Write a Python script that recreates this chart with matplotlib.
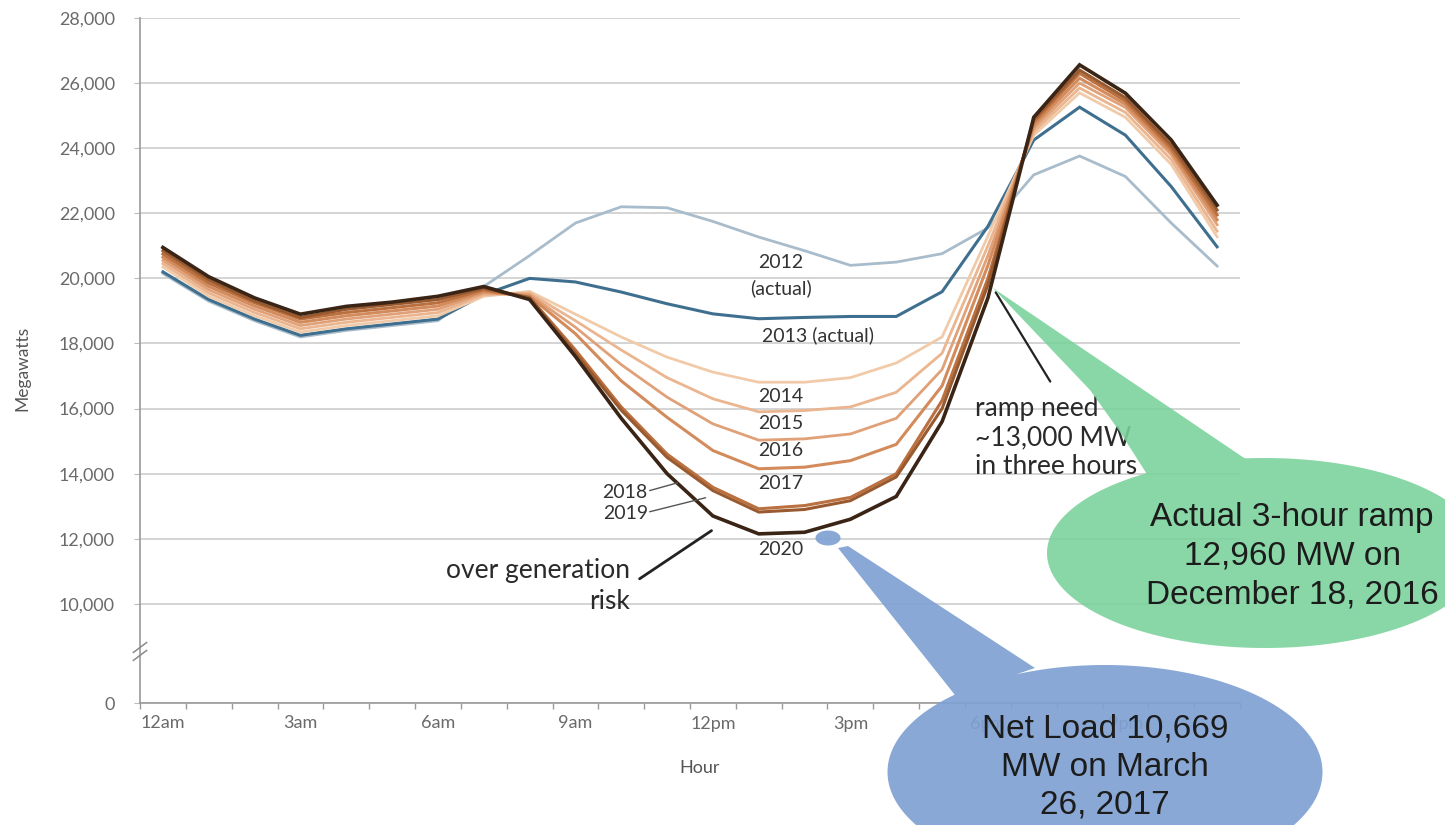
import numpy as np
import matplotlib.pyplot as plt
from matplotlib.path import Path
from matplotlib.patches import PathPatch

W, H = 1445, 825

hours = list(range(24))
tick_hours = [0, 3, 6, 9, 12, 15, 18, 21]
tick_names = ['12am', '3am', '6am', '9am', '12pm', '3pm', '6pm', '9pm']
y_ticks = [0, 10000, 12000, 14000, 16000, 18000, 20000, 22000, 24000, 26000, 28000]

# net load, MW, hour 0..23
load_2012 = [20150, 19300, 18700, 18200, 18400, 18550, 18700, 19750, 20700, 21700, 22200, 22170,
             21750, 21270, 20850, 20400, 20500, 20760, 21550, 23180, 23760, 23130, 21700, 20380]
load_2013 = [20200, 19350, 18750, 18250, 18450, 18600, 18750, 19500, 20000, 19890, 19580, 19220,
             18910, 18760, 18800, 18830, 18830, 19590, 21600, 24250, 25260, 24400, 22820, 20970]
load_2014 = [20350, 19450, 18850, 18350, 18550, 18700, 18850, 19450, 19600, 18900, 18200, 17580,
             17120, 16810, 16810, 16950, 17400, 18200, 21300, 24400, 25700, 24950, 23500, 21280]
load_2015 = [20450, 19550, 18950, 18450, 18650, 18800, 18950, 19500, 19550, 18700, 17800, 16950,
             16300, 15900, 15940, 16050, 16500, 17700, 21000, 24500, 25850, 25100, 23650, 21450]
load_2016 = [20550, 19650, 19050, 18550, 18750, 18900, 19050, 19550, 19500, 18500, 17350, 16350,
             15530, 15030, 15070, 15220, 15700, 17200, 20700, 24600, 26000, 25250, 23800, 21650]
load_2017 = [20650, 19750, 19150, 18650, 18850, 19000, 19150, 19600, 19450, 18300, 16850, 15730,
             14710, 14150, 14200, 14400, 14900, 16700, 20400, 24700, 26150, 25350, 23900, 21800]
load_2018 = [20750, 19850, 19250, 18750, 18950, 19100, 19250, 19650, 19420, 17800, 16050, 14600,
             13580, 12920, 13020, 13270, 14000, 16250, 20000, 24800, 26300, 25450, 24000, 21950]
load_2019 = [20850, 19950, 19300, 18800, 19050, 19200, 19350, 19700, 19400, 17700, 15950, 14500,
             13480, 12820, 12900, 13170, 13900, 16000, 19800, 24880, 26400, 25550, 24100, 22100]
load_2020 = [20950, 20050, 19400, 18900, 19140, 19270, 19450, 19750, 19350, 17600, 15700, 14000,
             12700, 12150, 12200, 12600, 13300, 15600, 19400, 24950, 26560, 25690, 24250, 22250]

lines = [
    (load_2012, '#a9bccb', 2.0),
    (load_2013, '#3f6f8f', 2.2),
    (load_2014, '#f1cba9', 2.0),
    (load_2015, '#eab58f', 2.0),
    (load_2016, '#e0a178', 2.0),
    (load_2017, '#d38b5c', 2.2),
    (load_2018, '#bb7040', 2.2),
    (load_2019, '#9a5a2f', 2.2),
    (load_2020, '#3a2415', 2.6),
]

# broken y axis: everything below 10,000 squashed
BREAK = 10000
SQUASH = 0.3046


def fwd(y):
    y = np.asarray(y, dtype=float)
    return np.where(y < BREAK, y * SQUASH, y - BREAK + BREAK * SQUASH)


def inv(t):
    t = np.asarray(t, dtype=float)
    return np.where(t < BREAK * SQUASH, t / SQUASH, t + BREAK - BREAK * SQUASH)


def fxy(px, py):
    return px / W, 1 - py / H


def callout(fig, cx, cy, w, h, tail, color, alpha):
    # ellipse + tail as one path so the overlap is not painted twice
    t = np.linspace(0, 2 * np.pi, 240)
    ring = np.column_stack([cx + w / 2 * np.cos(t), cy + h / 2 * np.sin(t)])
    tri = np.array(tail, dtype=float)
    a_ring = np.sum(ring[:-1, 0] * ring[1:, 1] - ring[1:, 0] * ring[:-1, 1])
    a_tri = np.sum(tri[:, 0] * np.roll(tri[:, 1], -1) - np.roll(tri[:, 0], -1) * tri[:, 1])
    if np.sign(a_ring) != np.sign(a_tri):
        tri = tri[::-1]
    verts = []
    codes = []
    for poly in (ring, tri):
        for i, (x, y) in enumerate(poly):
            verts.append(fxy(x, y))
            codes.append(Path.MOVETO if i == 0 else Path.LINETO)
        verts.append(fxy(*poly[0]))
        codes.append(Path.CLOSEPOLY)
    patch = PathPatch(Path(verts, codes), transform=fig.transFigure, facecolor=color,
                      edgecolor='none', alpha=alpha, zorder=5)
    fig.add_artist(patch)


plt.rcParams['font.family'] = ['Lato', 'DejaVu Sans']

fig = plt.figure(figsize=(W / 100, H / 100), dpi=100)
ax = fig.add_axes([140 / W, 1 - 703 / H, 1100 / W, 685 / H])
ax.set_yscale('function', functions=(fwd, inv))

for vals, col, lw in lines:
    ax.plot(hours, vals, color=col, lw=lw, solid_joinstyle='miter', zorder=3)

ax.set_xlim(-0.5, 23.5)
ax.set_ylim(0, 28000)
ax.set_yticks(y_ticks)
ax.set_yticklabels([f'{v:,}' for v in y_ticks])
ax.set_xticks(tick_hours)
ax.set_xticklabels(tick_names)
ax.set_xticks(np.arange(-0.5, 24, 1), minor=True)
ax.tick_params(axis='x', which='major', length=0, pad=9, labelsize=13, labelcolor='#6a6a6a')
ax.tick_params(axis='x', which='minor', length=4, color='#999999', width=1)
ax.tick_params(axis='y', length=4, color='#bbbbbb', pad=14, labelsize=13, labelcolor='#6a6a6a')
ax.grid(axis='y', color='#cdcdcd', lw=1.2, zorder=0)
ax.set_axisbelow(True)
for s in ('top', 'right'):
    ax.spines[s].set_visible(False)
for s in ('left', 'bottom'):
    ax.spines[s].set_color('#9a9a9a')
    ax.spines[s].set_linewidth(1.2)

# axis break marker
bt = ax.get_yaxis_transform()
ax.plot([-0.006, 0.006], [4300, 5300], transform=bt, color='#888888', lw=1.1, clip_on=False, zorder=4)
ax.plot([-0.006, 0.006], [5100, 6100], transform=bt, color='#888888', lw=1.1, clip_on=False, zorder=4)

# year labels
lab = dict(fontsize=14, color='#333333', ha='center', va='center', zorder=4)
ax.text(13.48, 20500, '2012', **lab)
ax.text(13.48, 19700, '(actual)', **lab)
ax.text(14.29, 18250, '2013 (actual)', **lab)
ax.text(13.48, 16370, '2014', **lab)
ax.text(13.48, 15530, '2015', **lab)
ax.text(13.48, 14710, '2016', **lab)
ax.text(13.48, 13700, '2017', **lab)
ax.text(13.48, 11680, '2020', **lab)
ax.text(10.58, 13420, '2018', fontsize=14, color='#333333', ha='right', va='center')
ax.text(10.58, 12770, '2019', fontsize=14, color='#333333', ha='right', va='center')
ax.annotate('', xy=(11.23, 13720), xytext=(10.62, 13480),
            arrowprops=dict(arrowstyle='-', color='#555555', lw=1, shrinkA=0, shrinkB=0))
ax.annotate('', xy=(11.84, 13260), xytext=(10.62, 12830),
            arrowprops=dict(arrowstyle='-', color='#555555', lw=1, shrinkA=0, shrinkB=0))

ax.text(10.19, 10560, 'over generation\nrisk', fontsize=19, color='#2a2a2a', ha='right',
        va='center', multialignment='right', linespacing=1.3)
ax.annotate('', xy=(11.97, 12250), xytext=(10.40, 10770),
            arrowprops=dict(arrowstyle='-', color='#222222', lw=2, shrinkA=0, shrinkB=0))

ax.text(17.72, 15100, 'ramp need\n~13,000 MW\nin three hours', fontsize=19, color='#2a2a2a',
        ha='left', va='center', linespacing=1.2)
ax.annotate('', xy=(18.17, 19570), xytext=(19.36, 16830),
            arrowprops=dict(arrowstyle='-', color='#222222', lw=1.6, shrinkA=0, shrinkB=0))

fig.text(*fxy(22, 368), 'Megawatts', rotation=90, fontsize=12.5, color='#555555', ha='center', va='center')
fig.text(*fxy(700, 768), 'Hour', fontsize=13, color='#555555', ha='center', va='center')

# callouts
callout(fig, 1265, 553, 436, 190,
        [(993, 288), (1250, 462), (1152, 482), (1120, 432), (1090, 390)], '#79d29b', 0.88)
fig.text(*fxy(1292, 556), 'Actual 3-hour ramp\n12,960 MW on\nDecember 18, 2016', fontsize=24,
         family='Liberation Sans', color='#1c1c1c', ha='center', va='center', linespacing=1.33, zorder=6)

callout(fig, 1105, 772, 435, 214, [(838, 548), (848, 546), (1035, 668), (955, 695)], '#7fa1d2', 0.92)
callout(fig, 828, 538, 25, 15, [(828, 538), (829, 539), (827, 539)], '#7fa1d2', 0.92)
fig.text(*fxy(1105, 767), 'Net Load 10,669\nMW on March\n26, 2017', fontsize=24,
         family='Liberation Sans', color='#1c1c1c', ha='center', va='center', linespacing=1.3, zorder=6)

fig.savefig('out.png', dpi=100)
